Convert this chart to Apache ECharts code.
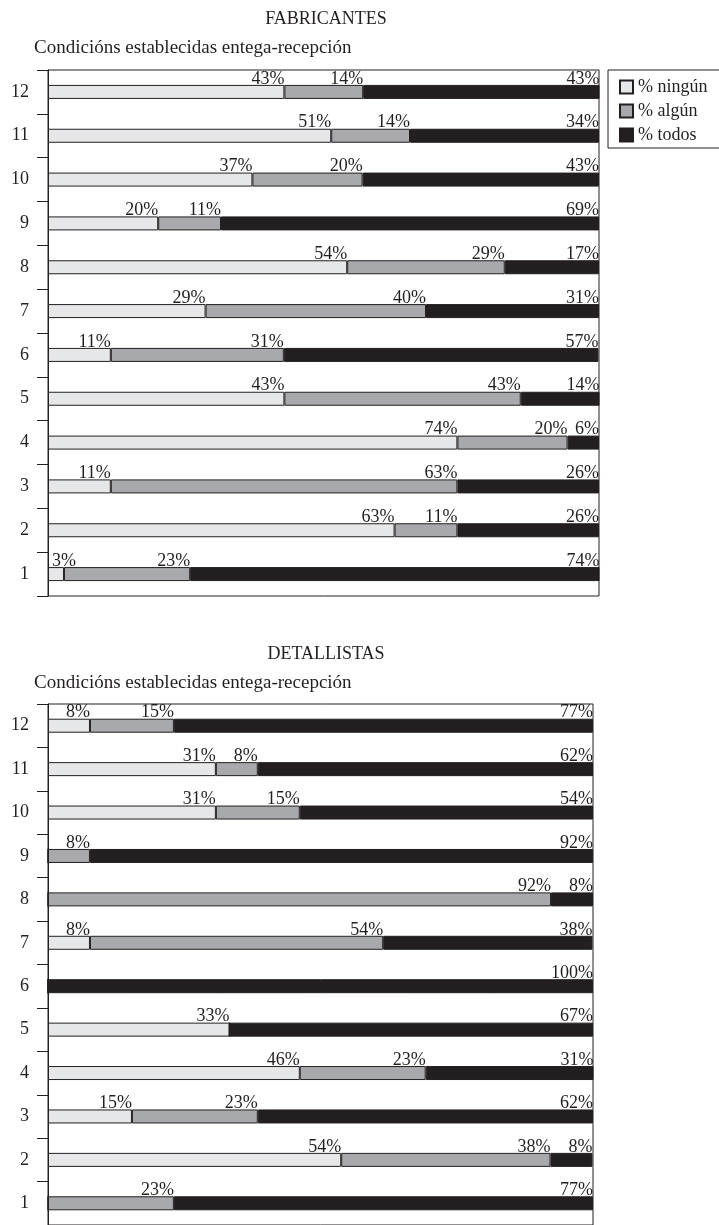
<!DOCTYPE html>
<html>
<head>
<meta charset="utf-8">
<script src="https://cdn.jsdelivr.net/npm/echarts@6/dist/echarts.min.js"></script>
<style>
html,body{margin:0;padding:0;background:#fff;}
#chart{width:719px;height:1225px;}
</style>
</head>
<body>
<div id="chart"></div>
<script>
const categories = ['1','2','3','4','5','6','7','8','9','10','11','12'];
const seriesNames = ['% ningún', '% algún', '% todos'];
const titles = ['FABRICANTES', 'DETALLISTAS'];
const subtitle = 'Condicións establecidas entega-recepción';

// FABRICANTES (categories 1..12)
const fabNingun = [2.9, 62.9, 11.4, 74.3, 42.9, 11.4, 28.6, 54.3, 20.0, 37.1, 51.4, 42.9];
const fabAlgun  = [22.9, 11.4, 62.9, 20.0, 42.9, 31.4, 40.0, 28.6, 11.4, 20.0, 14.3, 14.3];
const fabTodos  = [74.3, 25.7, 25.7, 5.7, 14.3, 57.1, 31.4, 17.1, 68.6, 42.9, 34.3, 42.9];

// DETALLISTAS (categories 1..12)
const detNingun = [0, 53.8, 15.4, 46.2, 33.3, 0, 7.7, 0, 0, 30.8, 30.8, 7.7];
const detAlgun  = [23.1, 38.4, 23.1, 23.1, 0, 0, 53.8, 92.3, 7.7, 15.4, 7.7, 15.4];
const detTodos  = [76.9, 7.7, 61.5, 30.8, 66.7, 100, 38.4, 7.7, 92.3, 53.8, 61.5, 76.9];

const INK = '#231f20';
const COLORS = ['#e6e7e8', '#a7a9ac', '#231f20'];
const FONT = '"Liberation Serif", "DejaVu Serif", serif';
const PLOT_LEFT = 48;

const chart = echarts.init(document.getElementById('chart'), null, {renderer: 'canvas'});

function makeSeries(name, data, idx, gridIdx) {
  return {
    name: name,
    type: 'bar',
    stack: 'g' + gridIdx,
    xAxisIndex: gridIdx,
    yAxisIndex: gridIdx,
    barWidth: 14,
    data: data,
    itemStyle: {color: COLORS[idx], borderColor: INK, borderWidth: 1},
    emphasis: {disabled: true},
    label: {
      show: true,
      position: ['100%', 3],
      align: 'right',
      verticalAlign: 'bottom',
      color: INK,
      fontFamily: FONT,
      fontSize: 18,
      formatter: function (p) { return p.value > 0 ? Math.round(p.value) + '%' : ''; }
    },
    labelLayout: function (params) {
      // keep labels from crossing the left axis line
      if (params.labelRect.x < PLOT_LEFT + 2) {
        return {x: PLOT_LEFT + 4, align: 'left'};
      }
      return {};
    }
  };
}

const yAxisCommon = {
  type: 'category',
  data: categories,
  axisLine: {show: true, lineStyle: {color: INK, width: 1}},
  axisTick: {show: true, length: 11, lineStyle: {color: INK, width: 1}},
  axisLabel: {color: INK, fontFamily: FONT, fontSize: 18, margin: 19},
  splitLine: {show: false}
};

const option = {
  animation: false,
  backgroundColor: '#fff',
  textStyle: {fontFamily: FONT, color: INK},
  title: [
    {text: titles[0], left: 321, top: 5, textAlign: 'center', textStyle: {fontFamily: FONT, fontSize: 18, fontWeight: 'normal', color: INK}},
    {text: subtitle, left: 29, top: 34, textStyle: {fontFamily: FONT, fontSize: 19, fontWeight: 'normal', color: INK}},
    {text: titles[1], left: 321, top: 640, textAlign: 'center', textStyle: {fontFamily: FONT, fontSize: 18, fontWeight: 'normal', color: INK}},
    {text: subtitle, left: 29, top: 669, textStyle: {fontFamily: FONT, fontSize: 19, fontWeight: 'normal', color: INK}}
  ],
  legend: {
    orient: 'vertical',
    left: 608,
    top: 70,
    data: seriesNames,
    icon: 'rect',
    itemWidth: 13,
    itemHeight: 13,
    itemGap: 6,
    padding: [8, 40, 4, 11],
    borderColor: INK,
    borderWidth: 1,
    selectedMode: false,
    textStyle: {fontFamily: FONT, fontSize: 18, color: INK}
  },
  grid: [
    {left: PLOT_LEFT, top: 70, width: 551, height: 526, show: true, borderColor: INK, borderWidth: 1, backgroundColor: '#fff'},
    {left: PLOT_LEFT, top: 704, width: 545, height: 526, show: true, borderColor: INK, borderWidth: 1, backgroundColor: '#fff'}
  ],
  xAxis: [
    {type: 'value', gridIndex: 0, min: 0, max: 100, show: false},
    {type: 'value', gridIndex: 1, min: 0, max: 100, show: false}
  ],
  yAxis: [
    Object.assign({gridIndex: 0}, yAxisCommon),
    Object.assign({gridIndex: 1}, yAxisCommon)
  ],
  series: [
    makeSeries(seriesNames[0], fabNingun, 0, 0),
    makeSeries(seriesNames[1], fabAlgun, 1, 0),
    makeSeries(seriesNames[2], fabTodos, 2, 0),
    makeSeries(seriesNames[0], detNingun, 0, 1),
    makeSeries(seriesNames[1], detAlgun, 1, 1),
    makeSeries(seriesNames[2], detTodos, 2, 1)
  ]
};

chart.setOption(option);
</script>
</body>
</html>
